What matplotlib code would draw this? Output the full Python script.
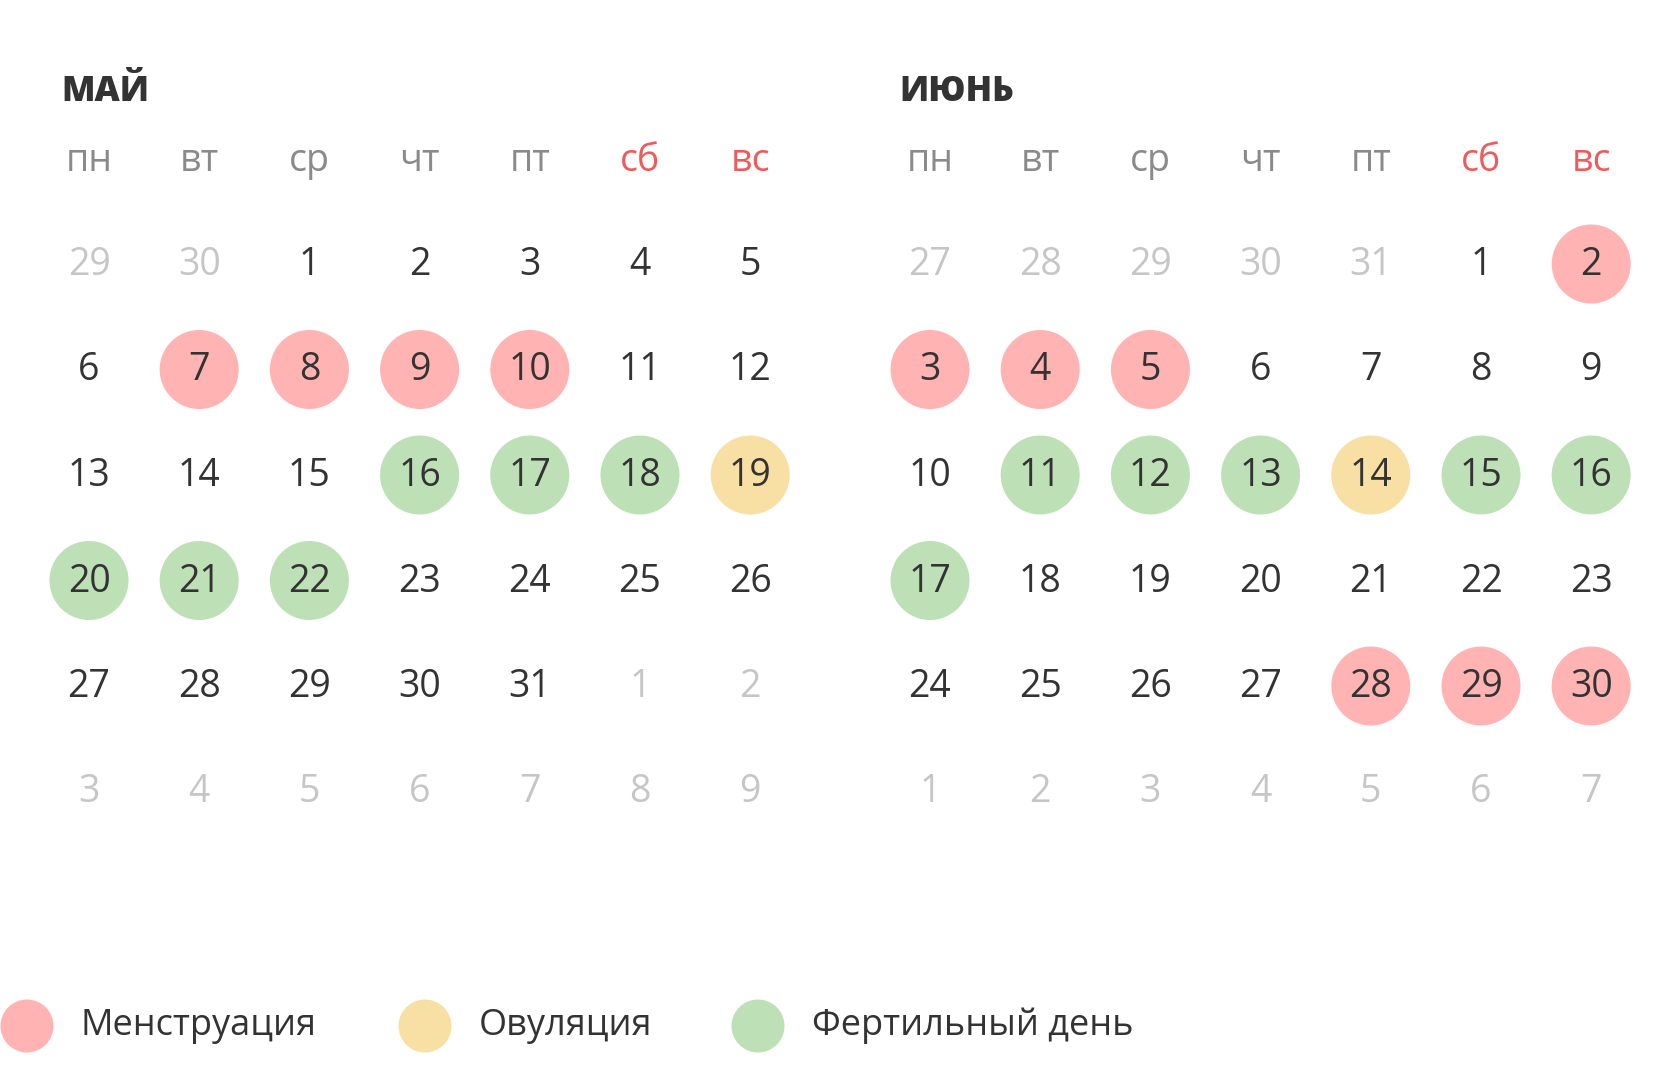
import matplotlib
matplotlib.use("Agg")
import matplotlib.pyplot as plt
from matplotlib.patches import Circle

plt.rcParams['font.family'] = ['Open Sans', 'DejaVu Sans']

# ---- data ----
weekdays = ['пн', 'вт', 'ср', 'чт', 'пт', 'сб', 'вс']
weekend_idx = [5, 6]

may_title = 'МАЙ'
may_grid = [
    [29, 30, 1, 2, 3, 4, 5],
    [6, 7, 8, 9, 10, 11, 12],
    [13, 14, 15, 16, 17, 18, 19],
    [20, 21, 22, 23, 24, 25, 26],
    [27, 28, 29, 30, 31, 1, 2],
    [3, 4, 5, 6, 7, 8, 9],
]
may_first_cell = 2      # index of day 1 of the month in flat grid
may_length = 31
may_menstruation = [7, 8, 9, 10]
may_ovulation = [19]
may_fertile = [16, 17, 18, 20, 21, 22]

june_title = 'ИЮНЬ'
june_grid = [
    [27, 28, 29, 30, 31, 1, 2],
    [3, 4, 5, 6, 7, 8, 9],
    [10, 11, 12, 13, 14, 15, 16],
    [17, 18, 19, 20, 21, 22, 23],
    [24, 25, 26, 27, 28, 29, 30],
    [1, 2, 3, 4, 5, 6, 7],
]
june_first_cell = 5
june_length = 30
june_menstruation = [2, 3, 4, 5, 28, 29, 30]
june_ovulation = [14]
june_fertile = [11, 12, 13, 15, 16, 17]

legend_labels = ['Менструация', 'Овуляция', 'Фертильный день']

# ---- style ----
C_MENS = '#FFB3B2'
C_OVUL = '#F8DFA3'
C_FERT = '#BEE0B6'
C_TEXT = '#333333'
C_HEAD = '#8A8A8A'
C_WEEKEND = '#F05A5A'
C_FADED = '#C6C6C6'

W, H = 1680, 1084
fig = plt.figure(figsize=(W / 100, H / 100), dpi=100)
ax = fig.add_axes([0, 0, 1, 1])
ax.set_xlim(0, W)
ax.set_ylim(H, 0)
ax.set_aspect('equal')
ax.axis('off')

col_dx = 110.2
row_dy = 105.5
row_y0 = 264
head_y = 161
title_y = 92
radius = 39.5


def draw_month(x0, title_x, title, grid, first_cell, length, mens, ovul, fert):
    ax.text(title_x, title_y, title, fontsize=25, fontweight='heavy',
            color=C_TEXT, ha='left', va='center')
    for j, wd in enumerate(weekdays):
        ax.text(x0 + j * col_dx, head_y, wd, fontsize=27,
                color=C_WEEKEND if j in weekend_idx else C_HEAD,
                ha='center', va='center')
    for i, row in enumerate(grid):
        for j, d in enumerate(row):
            idx = i * 7 + j
            inside = first_cell <= idx < first_cell + length
            x = x0 + j * col_dx
            y = row_y0 + i * row_dy
            if inside:
                fc = None
                if d in mens:
                    fc = C_MENS
                elif d in ovul:
                    fc = C_OVUL
                elif d in fert:
                    fc = C_FERT
                if fc:
                    ax.add_patch(Circle((x, y), radius, facecolor=fc,
                                        edgecolor='none', zorder=1))
            ax.text(x, y + 1, str(d), fontsize=27,
                    color=C_TEXT if inside else C_FADED,
                    ha='center', va='center', zorder=2)


draw_month(89, 61, may_title, may_grid, may_first_cell, may_length,
           may_menstruation, may_ovulation, may_fertile)
draw_month(930, 899, june_title, june_grid, june_first_cell, june_length,
           june_menstruation, june_ovulation, june_fertile)

legend_colors = [C_MENS, C_OVUL, C_FERT]
legend_x = [27, 425, 758]
legend_y = 1026
for lx, lab, c in zip(legend_x, legend_labels, legend_colors):
    ax.add_patch(Circle((lx, legend_y), 26.5, facecolor=c, edgecolor='none'))
    ax.text(lx + 54, legend_y, lab, fontsize=26, color=C_TEXT,
            ha='left', va='center')

fig.savefig('out.png', dpi=100, facecolor='white')
